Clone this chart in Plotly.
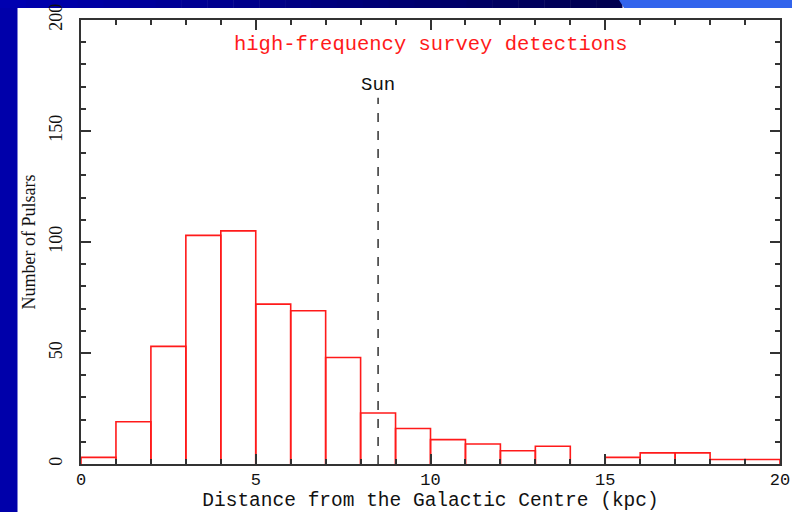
import plotly.graph_objects as go

# ---- data ----
bin_left = list(range(0, 20))
bin_width = 1
counts = [3, 19, 53, 103, 105, 72, 69, 48, 23, 16, 11, 9, 6, 8, 0, 3, 5, 5, 2, 2]
sun_position = 8.5
sun_line_top = 165
x_ticks = [0, 5, 10, 15, 20]
y_ticks = [0, 50, 100, 150, 200]
title_text = "high-frequency survey detections"
x_title = "Distance from the Galactic Centre (kpc)"
y_title = "Number of Pulsars"

W, H = 792, 512
L, R, T, B = 81, 12, 20, 48
pw, ph = W - L - R, H - T - B


def px(xpix):
    return (xpix - L) / pw


def py(ypix):
    return (H - B - ypix) / ph


mono = "Liberation Mono"
serif = "Liberation Serif"

# histogram outline: each bin drawn as an open rectangle (left, top, right sides)
hx, hy = [], []
for left, c in zip(bin_left, counts):
    if c == 0:
        continue
    right = left + bin_width
    hx += [left, left, right, right, None]
    hy += [0, c, c, 0, None]

fig = go.Figure()
fig.add_trace(go.Scatter(
    x=hx, y=hy, mode="lines",
    line=dict(color="#ff1a1a", width=1.6),
    hoverinfo="skip",
))
# invisible points for hover on bin centres
fig.add_trace(go.Scatter(
    x=[l + bin_width / 2 for l in bin_left], y=counts, mode="markers",
    marker=dict(size=1, color="rgba(0,0,0,0)"), hoverinfo="x+y",
))

shapes = []
# blue slide frame: left strip
shapes.append(dict(type="rect", xref="paper", yref="paper", x0=px(0), x1=px(17.5), y0=py(H), y1=py(0),
                   fillcolor="#0000aa", line=dict(width=0), layer="below"))
# top strip gradient (dark part)
n = 24
x_end = 622
for i in range(n):
    x0 = i * x_end / n
    x1 = (i + 1) * x_end / n + 0.5
    t = i / (n - 1)
    b = int(176 - t * (176 - 80))
    shapes.append(dict(type="rect", xref="paper", yref="paper", x0=px(x0), x1=px(x1), y0=py(8), y1=py(0),
                       fillcolor=f"rgb(0,0,{b})", line=dict(width=0), layer="below"))
# light blue part with diagonal edge
shapes.append(dict(type="path", xref="paper", yref="paper",
                   path=f"M {px(619)},{py(0)} L {px(W)},{py(0)} L {px(W)},{py(8)} L {px(624)},{py(8)} Z",
                   fillcolor="#3264ec", line=dict(width=0), layer="below"))
# Sun marker line
shapes.append(dict(type="line", xref="x", yref="y", x0=sun_position, x1=sun_position, y0=0, y1=sun_line_top,
                   line=dict(color="#222222", width=1.4, dash="dash")))

annotations = [
    dict(x=10, y=189, xref="x", yref="y", text=title_text, showarrow=False,
         font=dict(family=mono, size=20.5, color="#ff1a1a")),
    dict(x=sun_position, y=170.5, xref="x", yref="y", text="Sun", showarrow=False,
         font=dict(family=mono, size=19, color="#111111")),
]

axis_common = dict(
    showline=True, linecolor="#333333", linewidth=1.6, mirror="ticks",
    ticks="inside", ticklen=10, tickwidth=1.5, tickcolor="#333333",
    showgrid=False, zeroline=False,
)

fig.update_layout(
    template="none",
    width=W, height=H,
    margin=dict(l=L, r=R, t=T, b=B, pad=0, autoexpand=False),
    paper_bgcolor="white", plot_bgcolor="white",
    showlegend=False, hovermode="closest",
    shapes=shapes, annotations=annotations,
    xaxis=dict(range=[0, 20], tickvals=x_ticks, ticktext=[str(v) for v in x_ticks],
               ticklabelstandoff=-1, automargin=True,
               tickfont=dict(family=mono, size=17, color="#111111"),
               minor=dict(dtick=1, ticks="inside", ticklen=5, tickwidth=1.5, tickcolor="#333333"),
               title=dict(text=x_title, font=dict(family=mono, size=19.5, color="#111111"), standoff=7),
               **axis_common),
    yaxis=dict(range=[0, 200], tickvals=y_ticks, ticktext=[str(v) for v in y_ticks],
               tickangle=-90, ticklabelstandoff=10, automargin=False,
               tickfont=dict(family=serif, size=18, color="#111111"),
               minor=dict(dtick=10, ticks="inside", ticklen=5, tickwidth=1.5, tickcolor="#333333"),
               title=dict(text=y_title, font=dict(family=serif, size=18, color="#111111"), standoff=6),
               **axis_common),
)

fig.write_html("out.html")
